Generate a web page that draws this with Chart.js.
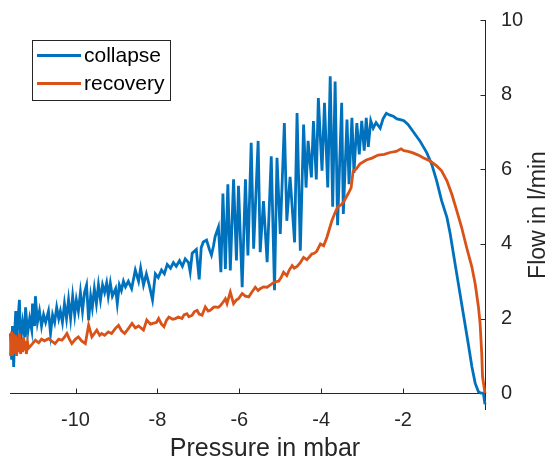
<!DOCTYPE html>
<html>
<head>
<meta charset="utf-8">
<title>Flow vs pressure</title>
<script src="https://cdn.jsdelivr.net/npm/chart.js@4.4.1/dist/chart.umd.min.js"></script>
<style>
  html, body { margin: 0; padding: 0; background: #fff; }
  #wrap { width: 551px; height: 460px; position: relative; }
</style>
</head>
<body>
<div id="wrap"><canvas id="chart" width="551" height="460"></canvas></div>
<script>
// ── Data ──
const xTicks = [-10, -8, -6, -4, -2];
const yTicks = [0, 2, 4, 6, 8, 10];
const xTitle = 'Pressure in mbar';
const yTitle = 'Flow in l/min';

const collapseX = [
  -11.59, -11.56, -11.54, -11.51, -11.49, -11.46, -11.44, -11.41, -11.37, -11.34,
  -11.29, -11.24, -11.22, -11.17, -11.12, -11.07, -11.05, -11.00, -10.98, -10.93,
  -10.88, -10.83, -10.78, -10.73, -10.66, -10.61, -10.56, -10.51, -10.46, -10.41,
  -10.37, -10.32, -10.27, -10.22, -10.17, -10.12, -10.07, -10.02, -9.98, -9.93,
  -9.88, -9.83, -9.78, -9.73, -9.68, -9.63, -9.59, -9.54, -9.49, -9.44,
  -9.39, -9.34, -9.29, -9.24, -9.20, -9.15, -9.10, -9.02, -8.98, -8.93,
  -8.88, -8.83, -8.78, -8.71, -8.63, -8.54, -8.46, -8.41, -8.34, -8.27,
  -8.20, -8.12, -8.05, -7.98, -7.90, -7.83, -7.76, -7.68, -7.61, -7.54,
  -7.46, -7.39, -7.32, -7.24, -7.20, -7.15, -7.10, -7.05, -6.98, -6.93,
  -6.88, -6.80, -6.73, -6.68, -6.63, -6.59, -6.51,
  -6.45, -6.40, -6.34, -6.28, -6.22, -6.14, -6.07, -6.02, -5.93, -5.85,
  -5.79, -5.71, -5.65, -5.54, -5.49, -5.41, -5.32, -5.22, -5.14, -5.08,
  -5.00, -4.90, -4.84, -4.76, -4.65, -4.59, -4.51, -4.43, -4.37, -4.32,
  -4.24, -4.19, -4.12, -4.07, -3.98, -3.92, -3.84, -3.78, -3.72, -3.66,
  -3.60, -3.50, -3.46, -3.37, -3.32, -3.25, -3.20, -3.13, -3.07, -3.01,
  -2.95, -2.90, -2.85, -2.79, -2.73, -2.66, -2.56, -2.49, -2.41, -2.32,
  -2.24, -2.15, -2.07, -1.98, -1.88, -1.76, -1.59, -1.42, -1.30, -1.18,
  -1.06, -0.93, -0.85, -0.77, -0.65, -0.53, -0.41, -0.32, -0.24, -0.16,
  -0.10, -0.04, 0.0
];
const collapseY = [
  1.6, 0.9, 1.8, 0.7, 1.5, 2.2, 1.2, 1.9, 2.5, 1.4,
  1.9, 1.5, 2.3, 1.6, 2.0, 1.7, 2.4, 1.8, 2.6, 1.9,
  2.2, 1.8, 2.1, 1.9, 2.2, 1.6, 2.1, 1.9, 2.3, 2.0,
  2.2, 1.9, 2.4, 2.0, 2.5, 2.0, 2.6, 2.1, 2.5, 2.2,
  2.7, 2.2, 2.7, 2.9, 1.95, 2.6, 2.3, 2.8, 2.4, 2.9,
  2.5, 2.9, 2.7, 2.95, 2.6, 2.95, 2.6, 2.8, 2.4, 2.9,
  2.75, 3.0, 2.85, 3.0, 2.8, 3.3, 3.0, 3.35, 2.9, 3.2,
  2.9, 2.5, 3.2, 3.1, 3.3, 3.2, 3.45, 3.35, 3.5, 3.4,
  3.55, 3.4, 3.6, 3.5, 3.25, 3.75, 3.8, 3.85, 3.05, 3.9,
  4.05, 4.1, 3.85, 3.7, 3.95, 4.2, 4.45,
  3.24, 5.35, 3.33, 5.6, 3.29, 5.73, 3.56, 5.56, 2.84, 5.73,
  3.69, 6.71, 3.87, 6.76, 3.78, 5.15, 3.51, 6.35, 2.76, 6.31,
  4.27, 7.24, 4.62, 5.8, 4.04, 7.51, 3.82, 7.2, 5.51, 6.76,
  5.78, 7.29, 5.73, 7.91, 5.96, 7.78, 5.51, 8.49, 5.0, 8.35,
  4.5, 7.78, 4.8, 7.33, 5.6, 7.38, 5.9, 7.24, 6.4, 7.3,
  6.5, 7.38, 6.6, 7.3, 7.1, 7.25, 7.1, 7.35, 7.5, 7.45,
  7.42, 7.35, 7.33, 7.3, 7.2, 7.02, 6.76, 6.44, 6.13, 5.69,
  5.16, 4.71, 4.27, 3.73, 2.93, 2.13, 1.33, 0.71, 0.27, 0.04,
  0.0, 0.0, -0.3
];

const recoveryX = [
  -11.59, -11.56, -11.54, -11.51, -11.49, -11.46, -11.44, -11.41, -11.39, -11.37,
  -11.34, -11.32, -11.29, -11.27, -11.24, -11.22, -11.20, -11.17, -11.15, -11.07,
  -10.98, -10.90, -10.83, -10.76, -10.66, -10.59, -10.50, -10.41, -10.33, -10.27,
  -10.21, -10.15, -10.09, -10.00, -9.93, -9.85, -9.76, -9.68, -9.60, -9.54,
  -9.48, -9.41, -9.36, -9.29, -9.20, -9.12, -9.03, -8.95, -8.88, -8.80,
  -8.71, -8.62, -8.54, -8.46, -8.34, -8.26, -8.17, -8.11, -8.02, -7.97,
  -7.90, -7.84, -7.78, -7.72, -7.63, -7.56, -7.49, -7.40, -7.35, -7.28,
  -7.23, -7.15, -7.10, -7.03, -6.98, -6.91, -6.83, -6.76, -6.71, -6.63,
  -6.59, -6.51, -6.46, -6.39, -6.34, -6.30, -6.22, -6.14, -6.07, -6.02,
  -5.93, -5.85, -5.77, -5.70, -5.61, -5.54, -5.49, -5.41, -5.32, -5.24,
  -5.14, -5.04, -4.98, -4.92, -4.84, -4.78, -4.71, -4.66, -4.59, -4.51,
  -4.43, -4.35, -4.29, -4.23, -4.17, -4.11, -4.02, -3.94, -3.86, -3.80,
  -3.74, -3.66, -3.59, -3.51, -3.44, -3.34, -3.27, -3.22, -3.15, -3.05,
  -2.90, -2.76, -2.61, -2.46, -2.32, -2.17, -2.05, -1.98, -1.88, -1.76,
  -1.63, -1.51, -1.34, -1.18, -1.06, -0.93, -0.81, -0.69, -0.57, -0.45,
  -0.32, -0.24, -0.16, -0.12, -0.08, -0.06, 0.0
];
const recoveryY = [
  1.0, 1.65, 1.0, 1.6, 1.05, 1.55, 1.0, 1.5, 1.1, 1.6,
  1.05, 1.45, 1.1, 1.5, 1.15, 1.4, 1.05, 1.35, 1.2, 1.3,
  1.42, 1.35, 1.45, 1.4, 1.46, 1.4, 1.33, 1.45, 1.42, 1.5,
  1.6, 1.45, 1.33, 1.45, 1.51, 1.4, 1.33, 1.82, 1.51, 1.6,
  1.69, 1.55, 1.6, 1.55, 1.64, 1.6, 1.73, 1.82, 1.68, 1.6,
  1.73, 1.87, 1.75, 1.8, 1.69, 1.96, 1.85, 1.87, 1.9, 2.0,
  1.85, 1.78, 1.95, 2.04, 1.98, 2.0, 2.04, 2.0, 2.1, 2.13,
  2.05, 2.09, 2.18, 2.22, 2.12, 2.09, 2.31, 2.2, 2.22, 2.3,
  2.31, 2.3, 2.35, 2.45, 2.53, 2.4, 2.71, 2.4, 2.5, 2.53,
  2.67, 2.6, 2.58, 2.7, 2.84, 2.75, 2.8, 2.85, 2.84, 2.9,
  2.98, 3.0, 3.1, 3.24, 3.15, 3.3, 3.42, 3.35, 3.4, 3.5,
  3.64, 3.58, 3.65, 3.73, 3.75, 3.8, 4.0, 3.95, 4.18, 4.4,
  4.62, 4.84, 5.0, 5.05, 5.15, 5.35, 5.5, 5.95, 6.0, 6.15,
  6.25, 6.3, 6.38, 6.4, 6.45, 6.48, 6.55, 6.5, 6.48, 6.44,
  6.38, 6.31, 6.22, 6.09, 5.96, 5.69, 5.33, 4.89, 4.44, 3.91,
  3.38, 2.93, 2.31, 1.87, 1.07, 0.44, 0.0
];

const seriesLabels = ['collapse', 'recovery'];
const seriesColors = ['#0072BD', '#D95319'];

// ── Styling ──
const FONT = '"Liberation Sans", Arial, Helvetica, sans-serif';
const AXIS_COLOR = '#262626';
const TEXT_COLOR = '#262626';

const toPoints = (xs, ys) => xs.map((x, i) => ({ x, y: ys[i] }));

// ── Axes drawn MATLAB-style: x axis through y=0, y axis on the right, inward ticks ──
const matlabAxes = {
  id: 'matlabAxes',
  beforeDatasetsDraw(chart) {
    const { ctx, chartArea, scales } = chart;
    const xs = scales.x, ys = scales.y;
    const y0 = Math.round(ys.getPixelForValue(0)) + 0.5;
    const xr = Math.round(xs.getPixelForValue(0)) + 0.5;
    ctx.save();
    ctx.strokeStyle = AXIS_COLOR;
    ctx.lineWidth = 1;
    ctx.beginPath();
    ctx.moveTo(chartArea.left, y0);
    ctx.lineTo(xr, y0);
    ctx.moveTo(xr, chartArea.top);
    ctx.lineTo(xr, chartArea.bottom);
    xTicks.forEach(v => {
      const px = Math.round(xs.getPixelForValue(v)) + 0.5;
      ctx.moveTo(px, y0);
      ctx.lineTo(px, y0 - 5);
    });
    yTicks.forEach(v => {
      const py = Math.round(ys.getPixelForValue(v)) + 0.5;
      ctx.moveTo(xr, py);
      ctx.lineTo(xr - 5, py);
    });
    ctx.stroke();
    ctx.restore();
  },
  afterDraw(chart) {
    const { ctx, chartArea } = chart;
    ctx.save();
    ctx.fillStyle = TEXT_COLOR;
    ctx.textAlign = 'center';
    ctx.textBaseline = 'alphabetic';
    // x axis title
    ctx.font = '25px ' + FONT;
    ctx.fillText(xTitle, 265, 456);
    // y axis title, reading bottom-to-top
    ctx.font = '23px ' + FONT;
    ctx.translate(545, (chartArea.top + chartArea.bottom) / 2);
    ctx.rotate(-Math.PI / 2);
    ctx.fillText(yTitle, 0, 0);
    ctx.restore();

    // legend box
    ctx.save();
    ctx.fillStyle = '#fff';
    ctx.fillRect(32.5, 40.5, 138, 60);
    ctx.strokeStyle = AXIS_COLOR;
    ctx.lineWidth = 1;
    ctx.strokeRect(32.5, 40.5, 138, 60);
    ctx.font = '21px ' + FONT;
    ctx.textBaseline = 'middle';
    ctx.textAlign = 'left';
    seriesLabels.forEach((label, i) => {
      const ly = 55.5 + i * 28;
      ctx.strokeStyle = seriesColors[i];
      ctx.lineWidth = 2.8;
      ctx.beginPath();
      ctx.moveTo(37, ly);
      ctx.lineTo(81, ly);
      ctx.stroke();
      ctx.fillStyle = '#000';
      ctx.fillText(label, 84, ly + 1);
    });
    ctx.restore();
  }
};

new Chart(document.getElementById('chart'), {
  type: 'line',
  data: {
    datasets: [
      {
        label: seriesLabels[0],
        data: toPoints(collapseX, collapseY),
        borderColor: seriesColors[0],
        borderWidth: 2.8,
        pointRadius: 0,
        tension: 0,
        fill: false,
        clip: false,
        order: 2,
      },
      {
        label: seriesLabels[1],
        data: toPoints(recoveryX, recoveryY),
        borderColor: seriesColors[1],
        borderWidth: 2.8,
        pointRadius: 0,
        tension: 0,
        fill: false,
        clip: false,
        order: 1,
      },
    ]
  },
  options: {
    responsive: false,
    animation: false,
    events: [],
    layout: { padding: { left: 10, top: 18, right: 0, bottom: 0 } },
    plugins: {
      legend: { display: false },
      tooltip: { enabled: false },
    },
    scales: {
      x: {
        type: 'linear',
        position: 'bottom',
        min: -11.6,
        max: 0,
        afterBuildTicks: s => { s.ticks = xTicks.map(v => ({ value: v })); },
        afterFit: s => { s.height = 50; },
        grid: { display: false },
        border: { display: false },
        ticks: { color: TEXT_COLOR, font: { family: FONT, size: 20 }, padding: -10, maxRotation: 0 },
        title: { display: false },
      },
      y: {
        type: 'linear',
        position: 'right',
        min: -0.45,
        max: 10,
        afterBuildTicks: s => { s.ticks = yTicks.map(v => ({ value: v })); },
        afterFit: s => { s.width = 66; },
        grid: { display: false },
        border: { display: false },
        ticks: { color: TEXT_COLOR, font: { family: FONT, size: 20 }, padding: 8 },
      }
    }
  },
  plugins: [matlabAxes]
});
</script>
</body>
</html>
